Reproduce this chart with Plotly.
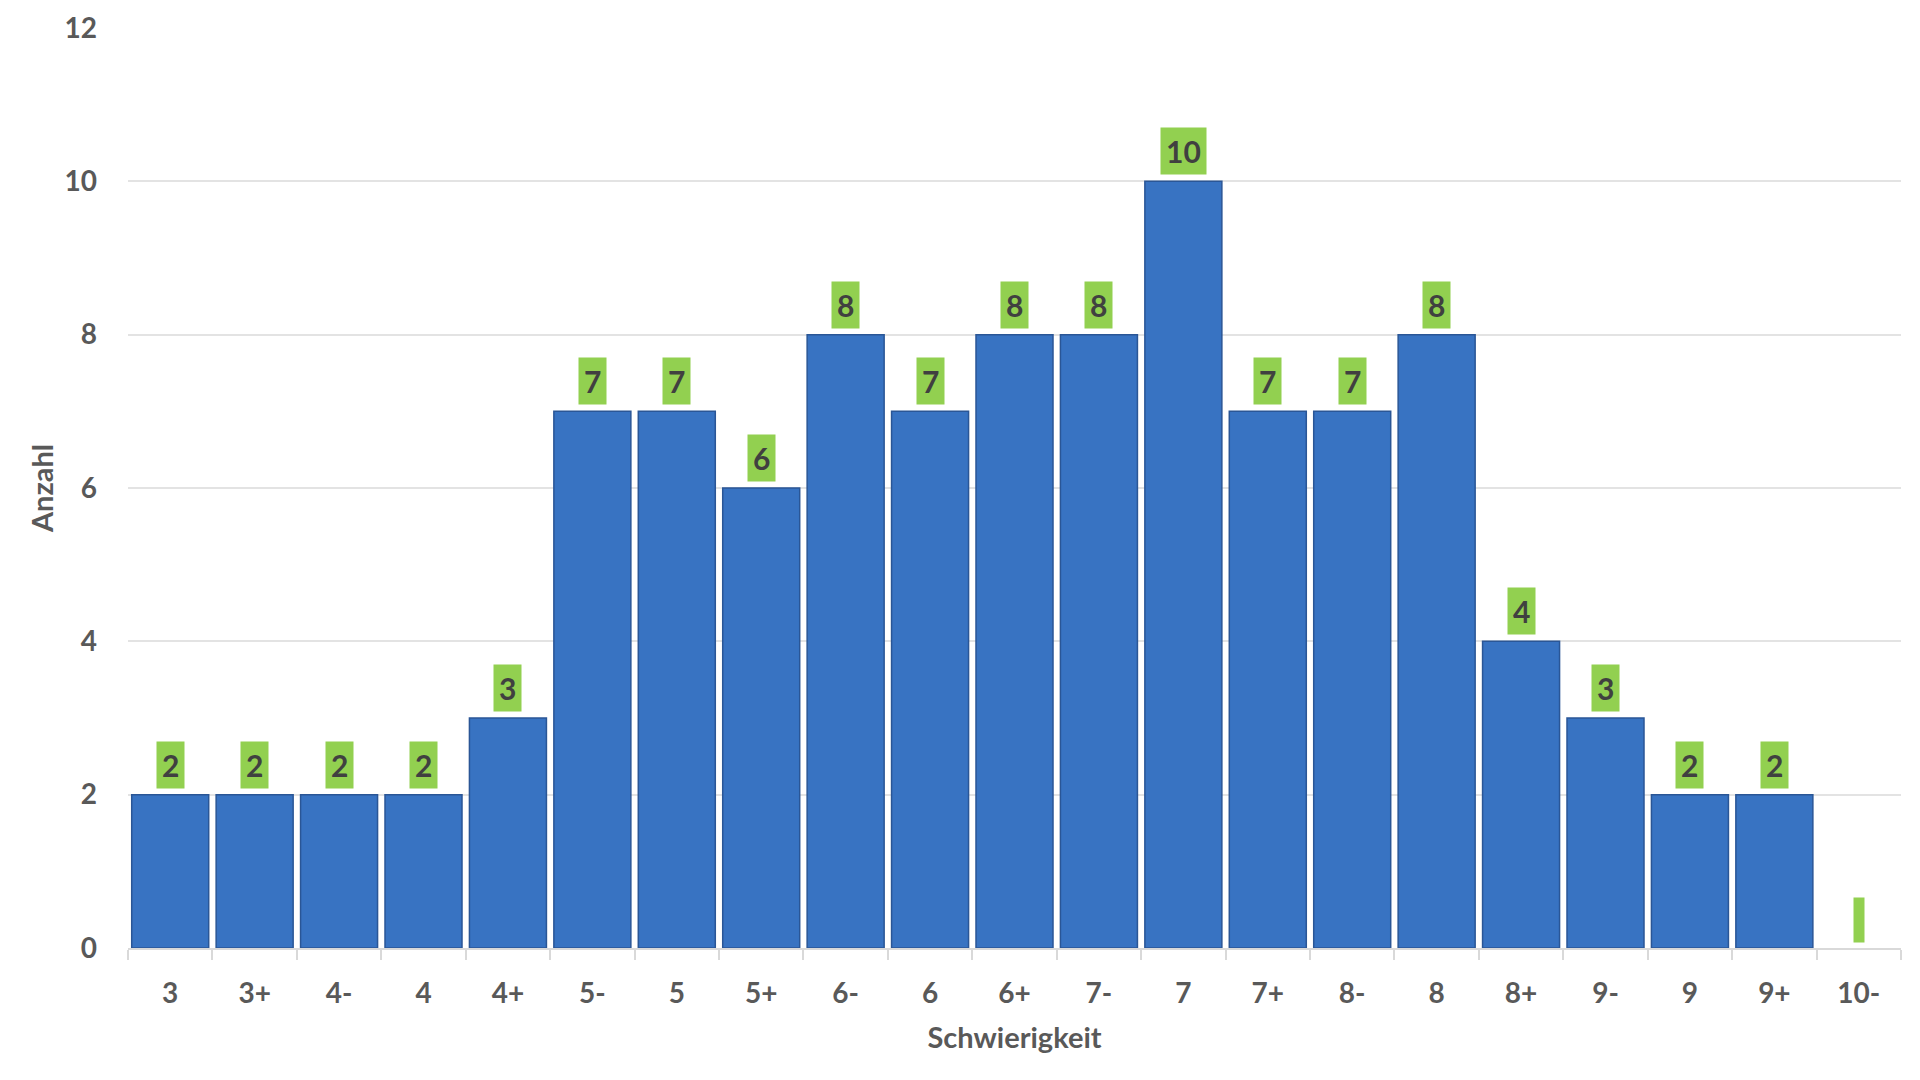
import plotly.graph_objects as go

categories = ["3", "3+", "4-", "4", "4+", "5-", "5", "5+", "6-", "6", "6+",
              "7-", "7", "7+", "8-", "8", "8+", "9-", "9", "9+", "10-"]
counts = [2, 2, 2, 2, 3, 7, 7, 6, 8, 7, 8, 8, 10, 7, 7, 8, 4, 3, 2, 2, 0]
y_ticks = [0, 2, 4, 6, 8, 10, 12]

FONT = "Lato"
AXIS_GRAY = "#595959"
LABEL_GREEN = "#92D050"
BAR_BLUE = "#3873C2"
BAR_EDGE = "#2A5696"

fig = go.Figure()
fig.add_trace(go.Bar(
    x=categories,
    y=counts,
    marker=dict(color=BAR_BLUE,
                line=dict(color=BAR_EDGE,
                          width=[1.5 if v > 0 else 0 for v in counts])),
    hoverinfo="x+y",
))

annotations = []
for i, v in enumerate(counts):
    txt = str(v) if v > 0 else " "
    ann = dict(
        x=i, y=v, xref="x", yref="y",
        text="<b>%s</b>" % txt,
        showarrow=False, yanchor="bottom", yshift=6,
        bgcolor=LABEL_GREEN, borderpad=5,
        font=dict(family=FONT, size=30, color="#404040"),
    )
    if v == 0:
        ann.update(width=8, height=42, borderpad=1, yshift=5)
    annotations.append(ann)

fig.update_layout(
    width=1920, height=1080,
    margin=dict(l=120, r=27, t=20, b=140),
    paper_bgcolor="white", plot_bgcolor="white",
    bargap=0.088,
    showlegend=False,
    font=dict(family=FONT, color=AXIS_GRAY),
    annotations=annotations,
    xaxis=dict(
        type="category",
        showgrid=False,
        showline=True, linecolor="#D9D9D9", linewidth=2,
        ticks="outside", tickson="boundaries", ticklen=10,
        tickcolor="#D9D9D9", tickwidth=2,
        tickfont=dict(family=FONT, size=28, color=AXIS_GRAY, weight="bold"),
        ticklabelstandoff=19,
        title=dict(text="<b>Schwierigkeit</b>", standoff=20,
                   font=dict(family=FONT, size=29, color=AXIS_GRAY)),
    ),
    yaxis=dict(
        range=[0, 12],
        tickvals=y_ticks,
        automargin=False,
        showgrid=True, gridcolor="#E3E3E3", gridwidth=2,
        zeroline=False, showline=False,
        tickfont=dict(family=FONT, size=28, color=AXIS_GRAY, weight="bold"),
        ticklabelstandoff=30,
        ticklabeloverflow="allow",
        title=dict(text="<b>Anzahl</b>", standoff=2,
                   font=dict(family=FONT, size=29, color=AXIS_GRAY)),
    ),
)

fig.write_html("out.html")
